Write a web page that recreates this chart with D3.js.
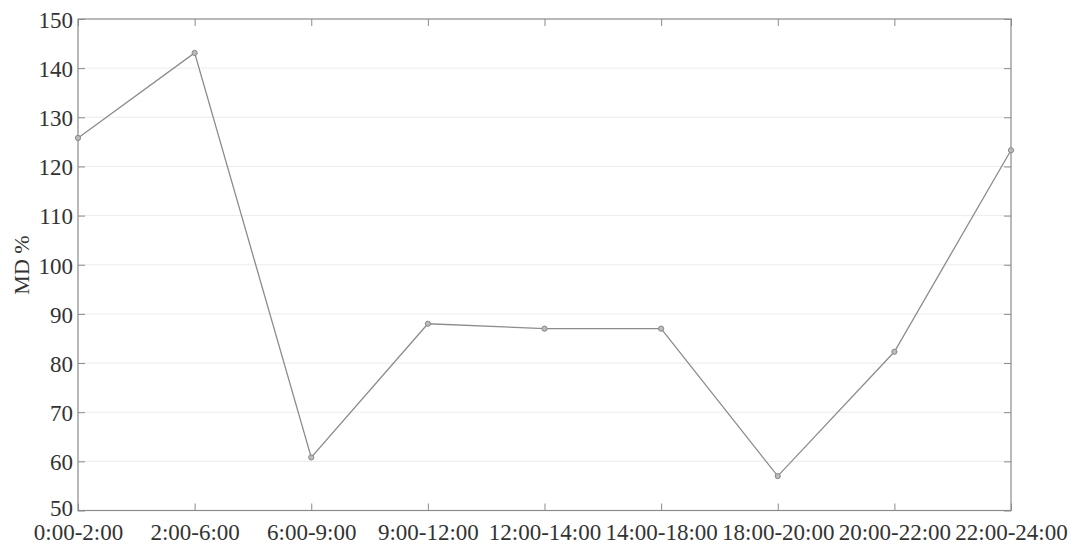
<!DOCTYPE html>
<html><head><meta charset="utf-8">
<script src="https://cdn.jsdelivr.net/npm/d3@7"></script>
<style>body{margin:0;background:#fff}svg{display:block}text{font-family:"Liberation Serif","Times New Roman",serif;fill:#333}</style>
</head><body><svg id="c" width="1077" height="546"></svg>
<script>
const categories = ["0:00-2:00","2:00-6:00","6:00-9:00","9:00-12:00","12:00-14:00","14:00-18:00","18:00-20:00","20:00-22:00","22:00-24:00"];
const values = [125.8, 143.1, 60.8, 88.0, 87.0, 87.0, 57.0, 82.3, 123.3];
const yTicks = [50,60,70,80,90,100,110,120,130,140,150];

const svg = d3.select("#c");
const L=78, R=1011, T=19, B=510.5;
const x = d3.scalePoint().domain(categories).range([L,R]);
const y = d3.scaleLinear().domain([50,150]).range([B,T]);

// grid
svg.append("g").selectAll("line").data(yTicks.slice(1,-1)).join("line")
  .attr("x1",L).attr("x2",R).attr("y1",d=>y(d)).attr("y2",d=>y(d))
  .attr("stroke","#ececec").attr("stroke-width",1);

// frame
svg.append("rect").attr("x",L).attr("y",T).attr("width",R-L).attr("height",B-T)
  .attr("fill","none").attr("stroke","#8a8a8a").attr("stroke-width",1.2);

// axes
const yl = svg.append("g").attr("transform",`translate(${L},0)`)
  .call(d3.axisLeft(y).tickValues(yTicks).tickSize(-7).tickPadding(12));
const yr = svg.append("g").attr("transform",`translate(${R},0)`)
  .call(d3.axisRight(y).tickValues(yTicks).tickSize(-7).tickFormat(""));
const xb = svg.append("g").attr("transform",`translate(0,${B})`)
  .call(d3.axisBottom(x).tickSize(-7).tickPadding(12));
const xt = svg.append("g").attr("transform",`translate(0,${T})`)
  .call(d3.axisTop(x).tickSize(-7).tickFormat(""));
[yl,yr,xb,xt].forEach(g=>{
  g.select(".domain").remove();
  g.selectAll(".tick line").attr("stroke","#8a8a8a");
  g.selectAll("text").style("font-size","23px").attr("fill","#333");
});
xb.selectAll("text").attr("dy","0").attr("y",29);
yl.selectAll("text").attr("x",-5).attr("dy","0.36em");
yl.selectAll(".tick").filter(d=>d===50).select("text").attr("dy","0.2em");

// line
svg.append("path").datum(values)
  .attr("d", d3.line().x((d,i)=>x(categories[i])).y(d=>y(d)))
  .attr("fill","none").attr("stroke","#8c8c8c").attr("stroke-width",1.3);

svg.append("g").selectAll("circle").data(values).join("circle")
  .attr("cx",(d,i)=>x(categories[i])).attr("cy",d=>y(d)).attr("r",2.6)
  .attr("fill","#bbb").attr("stroke","#888").attr("stroke-width",1);

svg.append("text").attr("transform","translate(29,265) rotate(-90)")
  .attr("text-anchor","middle").style("font-size","22px").text("MD %");
</script></body></html>
